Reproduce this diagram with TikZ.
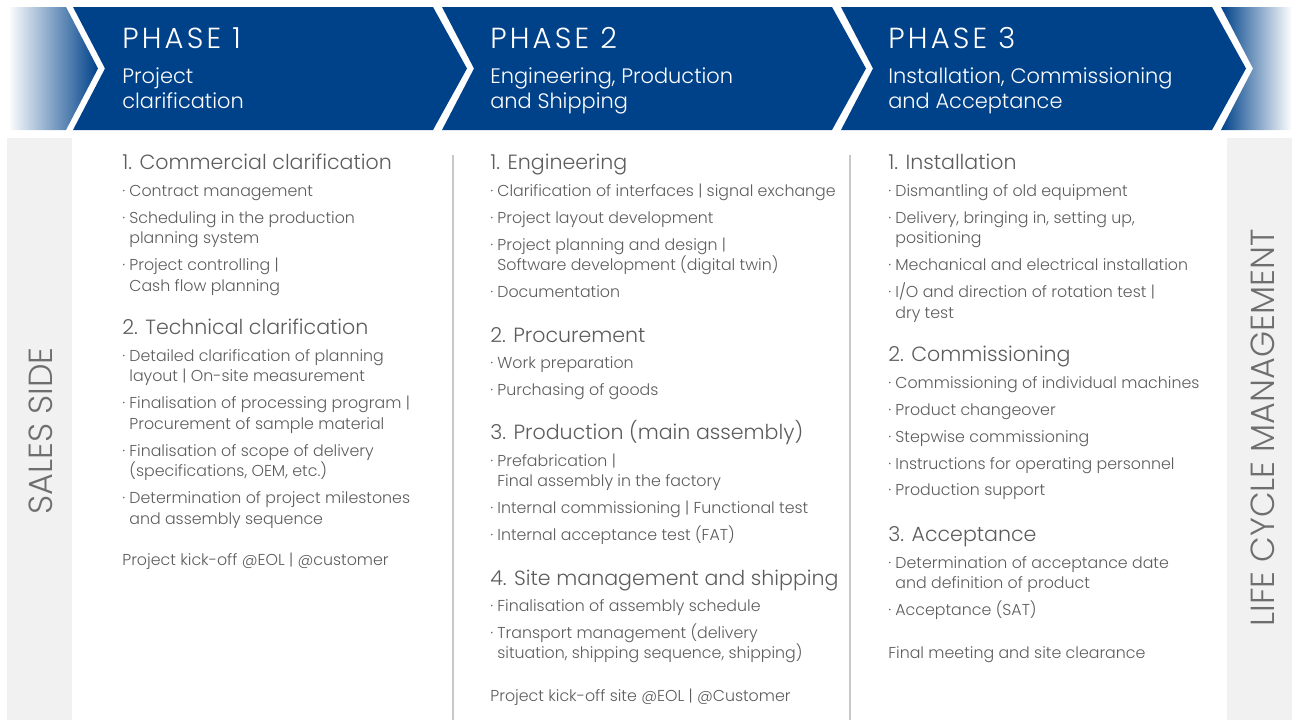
\documentclass[tikz,border=0pt]{standalone}
\usepackage{fontspec}
\setmainfont{Poppins}[UprightFont=* Light]
\usepackage{xcolor}
\usetikzlibrary{positioning}

\definecolor{phaseblue}{RGB}{0,66,138}
\definecolor{textgray}{RGB}{92,92,92}
\definecolor{sidegray}{RGB}{241,241,241}
\definecolor{sidetext}{RGB}{110,110,110}
\definecolor{sepgray}{RGB}{200,200,200}

% bullet and indent for the task lists
\newcommand{\bul}{\strut\makebox[4pt][l]{·}}
\newcommand{\ind}{\hspace*{4pt}}
\protected\def\tightlines{\lineskiplimit=-6pt\relax}

\begin{document}
\begin{tikzpicture}[
        x=0.02cm, y=-0.02cm,
        phase/.style={fill=phaseblue, draw=none},
        phasetitle/.style={anchor=base west, inner sep=0, text=white, font=\fontsize{16.5}{19}\selectfont\addfontfeature{LetterSpace=11}},
        phasesub/.style={anchor=base west, inner sep=0, text=white, align=left, font=\fontsize{11.9}{14.2}\selectfont},
        sidebox/.style={fill=sidegray, draw=none},
        sidelabel/.style={rotate=90, inner sep=0, text depth=0pt, text=sidetext, font=\fontsize{19}{21}\selectfont},
        heading/.style={anchor=base west, inner sep=0, text=textgray, font=\fontsize{11.7}{14}\selectfont},
        tasklist/.style={anchor=north west, yshift=8.19pt, inner sep=0, text=textgray, align=left, font=\fontsize{9}{11.7}\selectfont\tightlines},
        closing/.style={anchor=base west, inner sep=0, text=textgray, font=\fontsize{9}{11.7}\selectfont},
        sepline/.style={draw=sepgray, line width=0.6pt}
    ]
    \useasboundingbox (0,0) rectangle (1300,727);

    % phase banner
    \shade[left color=white, right color=phaseblue] (8,7) -- (66,7) -- (98,68.5) -- (66,130) -- (8,130) -- cycle;
    \fill[phase] (73,7) -- (433,7) -- (467,68.5) -- (433,130) -- (73,130) -- (105,68.5) -- cycle;
    \fill[phase] (442,7) -- (832,7) -- (866,68.5) -- (832,130) -- (442,130) -- (474,68.5) -- cycle;
    \fill[phase] (841,7) -- (1212,7) -- (1246,68.5) -- (1212,130) -- (841,130) -- (873,68.5) -- cycle;
    \shade[left color=phaseblue, right color=white] (1221,7) -- (1292,7) -- (1292,130) -- (1221,130) -- (1253,68.5) -- cycle;

    \node[phasetitle] (ph1) at (122,48) {PHASE 1};
    \node[phasesub] (ph1sub) at (122,108) {Project\\clarification};
    \node[phasetitle] (ph2) at (490,48) {PHASE 2};
    \node[phasesub] (ph2sub) at (490,108) {Engineering, Production\\and Shipping};
    \node[phasetitle] (ph3) at (888,48) {PHASE 3};
    \node[phasesub] (ph3sub) at (888,108) {Installation, Commissioning\\and Acceptance};

    % side panels
    \fill[sidebox] (7,138) rectangle (72,720);
    \fill[sidebox] (1227,138) rectangle (1292,720);
    \node[sidelabel] (sales) at (41,431) {SALES SIDE};
    \node[sidelabel] (lcm) at (1263,428) {LIFE CYCLE MANAGEMENT};

    \draw[sepline] (453,155) -- (453,720);
    \draw[sepline] (850,155) -- (850,720);

    % phase 1
    \node[heading] (c1h1) at (122,169) {1. Commercial clarification};
    \node[tasklist] (c1l1) at (122,196) {\bul Contract management\\[3.6pt]
        \bul Scheduling in the production\\ \ind planning system\\[3.6pt]
        \bul Project controlling |\\ \ind Cash flow planning};
    \node[heading] (c1h2) at (122,334) {2. Technical clarification};
    \node[tasklist] (c1l2) at (122,361) {\bul Detailed clarification of planning\\ \ind layout | On-site measurement\\[3.6pt]
        \bul Finalisation of processing program |\\ \ind Procurement of sample material\\[3.6pt]
        \bul Finalisation of scope of delivery\\ \ind (specifications, OEM, etc.)\\[3.6pt]
        \bul Determination of project milestones\\ \ind and assembly sequence};
    \node[closing] (c1end) at (122,565) {Project kick-off @EOL | @customer};

    % phase 2
    \node[heading] (c2h1) at (490,169) {1. Engineering};
    \node[tasklist] (c2l1) at (490,196) {\bul Clarification of interfaces | signal exchange\\[3.6pt]
        \bul Project layout development\\[3.6pt]
        \bul Project planning and design |\\ \ind Software development (digital twin)\\[3.6pt]
        \bul Documentation};
    \node[heading] (c2h2) at (490,342) {2. Procurement};
    \node[tasklist] (c2l2) at (490,368) {\bul Work preparation\\[3.6pt]
        \bul Purchasing of goods};
    \node[heading] (c2h3) at (490,439) {3. Production (main assembly)};
    \node[tasklist] (c2l3) at (490,466) {\bul Prefabrication |\\ \ind Final assembly in the factory\\[3.6pt]
        \bul Internal commissioning | Functional test\\[3.6pt]
        \bul Internal acceptance test (FAT)};
    \node[heading] (c2h4) at (490,585) {4. Site management and shipping};
    \node[tasklist] (c2l4) at (490,611) {\bul Finalisation of assembly schedule\\[3.6pt]
        \bul Transport management (delivery\\ \ind situation, shipping sequence, shipping)};
    \node[closing] (c2end) at (490,701) {Project kick-off site @EOL | @Customer};

    % phase 3
    \node[heading] (c3h1) at (888,169) {1. Installation};
    \node[tasklist] (c3l1) at (888,196) {\bul Dismantling of old equipment\\[3.6pt]
        \bul Delivery, bringing in, setting up,\\ \ind positioning\\[3.6pt]
        \bul Mechanical and electrical installation\\[3.6pt]
        \bul I/O and direction of rotation test |\\ \ind dry test};
    \node[heading] (c3h2) at (888,361) {2. Commissioning};
    \node[tasklist] (c3l2) at (888,388) {\bul Commissioning of individual machines\\[3.6pt]
        \bul Product changeover\\[3.6pt]
        \bul Stepwise commissioning\\[3.6pt]
        \bul Instructions for operating personnel\\[3.6pt]
        \bul Production support};
    \node[heading] (c3h3) at (888,541) {3. Acceptance};
    \node[tasklist] (c3l3) at (888,568) {\bul Determination of acceptance date\\ \ind and definition of product\\[3.6pt]
        \bul Acceptance (SAT)};
    \node[closing] (c3end) at (888,658) {Final meeting and site clearance};
\end{tikzpicture}
\end{document}
